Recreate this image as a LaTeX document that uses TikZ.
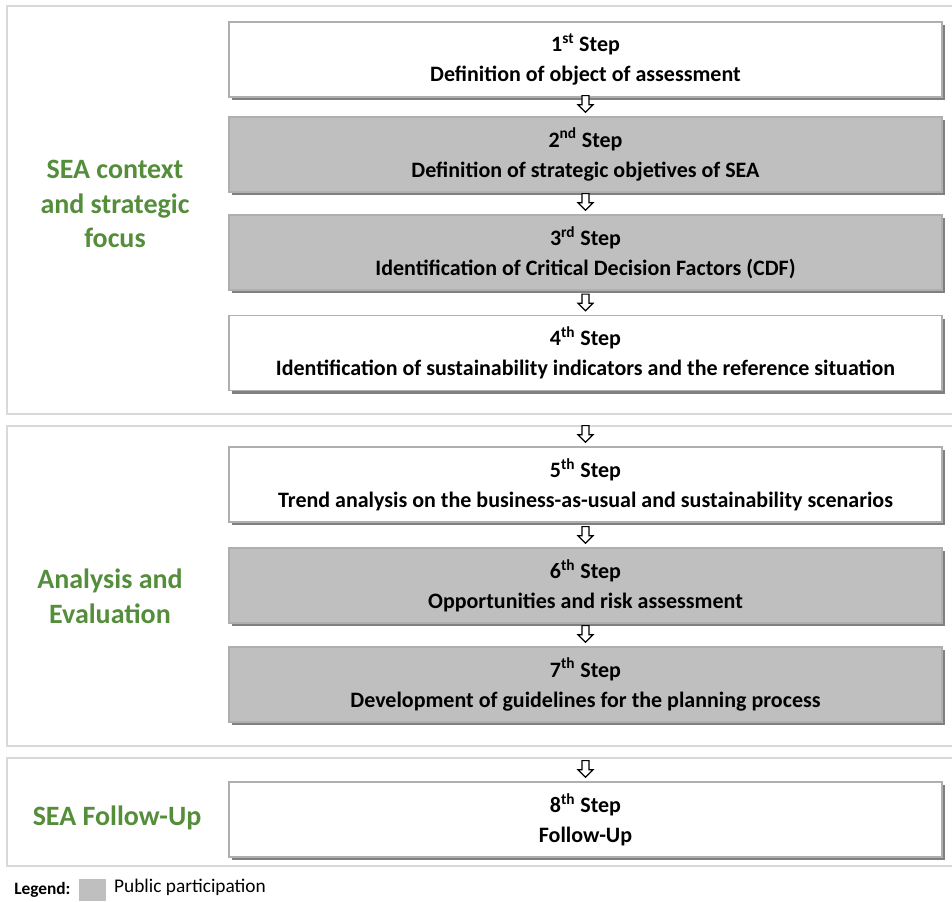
\documentclass[tikz,border=0pt]{standalone}
\usepackage{fontspec}
\setmainfont{Carlito}
\usepackage{tikz}
\usepackage{xcolor}
\usetikzlibrary{shapes.arrows, shadows, positioning, calc}
\definecolor{phasegreen}{RGB}{84, 142, 59}
\definecolor{framegray}{RGB}{217, 217, 217}
\definecolor{boxline}{RGB}{175, 175, 175}
\definecolor{partgray}{RGB}{191, 191, 191}

\tikzset{
  stepbox/.style={draw=boxline, line width=0.8pt, fill=white,
    minimum width=534.75pt, minimum height=56.25pt, align=center,
    inner sep=0pt, font=\fontsize{16.5}{22.5}\selectfont\bfseries,
    general shadow={fill=black!50, shadow xshift=2.4pt, shadow yshift=-2.4pt}},
  partbox/.style={stepbox, fill=partgray},
  phase/.style={text=phasegreen, align=center,
    font=\fontsize{21}{26}\selectfont\bfseries},
  flowarrow/.style={draw=black, fill=white, line width=0.9pt,
    single arrow, shape border rotate=270, minimum height=12.5pt,
    minimum width=10.5pt, single arrow head extend=3pt, inner sep=2.2pt,
    anchor=tip}
}

\begin{document}
\begin{tikzpicture}[x=0.75pt, y=-0.75pt]
    \useasboundingbox (0,0) rectangle (952,901);
    % phase frames
    \draw[framegray, line width=0.9pt] (7,6) rectangle (970,414);
    \draw[framegray, line width=0.9pt] (7,426) rectangle (970,746);
    \draw[framegray, line width=0.9pt] (7,758) rectangle (970,866);

    \node[phase] (ctx) at (115,204) {SEA context\\and strategic\\focus};
    \node[phase] (ana) at (110,596) {Analysis and\\Evaluation};
    \node[phase] (fol) at (117,818) {SEA Follow-Up};

    % steps
    \node[stepbox] (s1) at (585.5,59.5) {1\textsuperscript{st} Step\\Definition of object of assessment};
    \node[partbox] (s2) at (585.5,154.5) {2\textsuperscript{nd} Step\\Definition of strategic objetives of SEA};
    \node[partbox] (s3) at (585.5,252.5) {3\textsuperscript{rd} Step\\Identification of Critical Decision Factors (CDF)};
    \node[stepbox] (s4) at (585.5,353) {4\textsuperscript{th} Step\\Identification of sustainability indicators and the reference situation};
    \node[stepbox] (s5) at (585.5,484.5) {5\textsuperscript{th} Step\\Trend analysis on the business-as-usual and sustainability scenarios};
    \node[partbox] (s6) at (585.5,585.5) {6\textsuperscript{th} Step\\Opportunities and risk assessment};
    \node[partbox] (s7) at (585.5,684.5) {7\textsuperscript{th} Step\\Development of guidelines for the planning process};
    \node[stepbox] (s8) at (585.5,819.5) {8\textsuperscript{th} Step\\Follow-Up};

    % arrows
    \foreach \a/\b in {s1/s2, s2/s3, s3/s4, s4/s5, s5/s6, s6/s7, s7/s8}
        \node[flowarrow] (\a-\b) at ([yshift=2.5pt]\b.north) {};

    % legend
    \node[anchor=west, font=\fontsize{13}{15}\selectfont\bfseries, inner sep=0pt] (leg) at (14,890) {Legend:};
    \node[fill=partgray, minimum width=20pt, minimum height=17pt, inner sep=0pt,
        right=6pt of leg] (legbox) {};
    \node[anchor=west, font=\fontsize{14.5}{16}\selectfont, inner sep=0pt,
        right=6pt of legbox, yshift=2pt] (legtxt) {Public participation};
\end{tikzpicture}
\end{document}
